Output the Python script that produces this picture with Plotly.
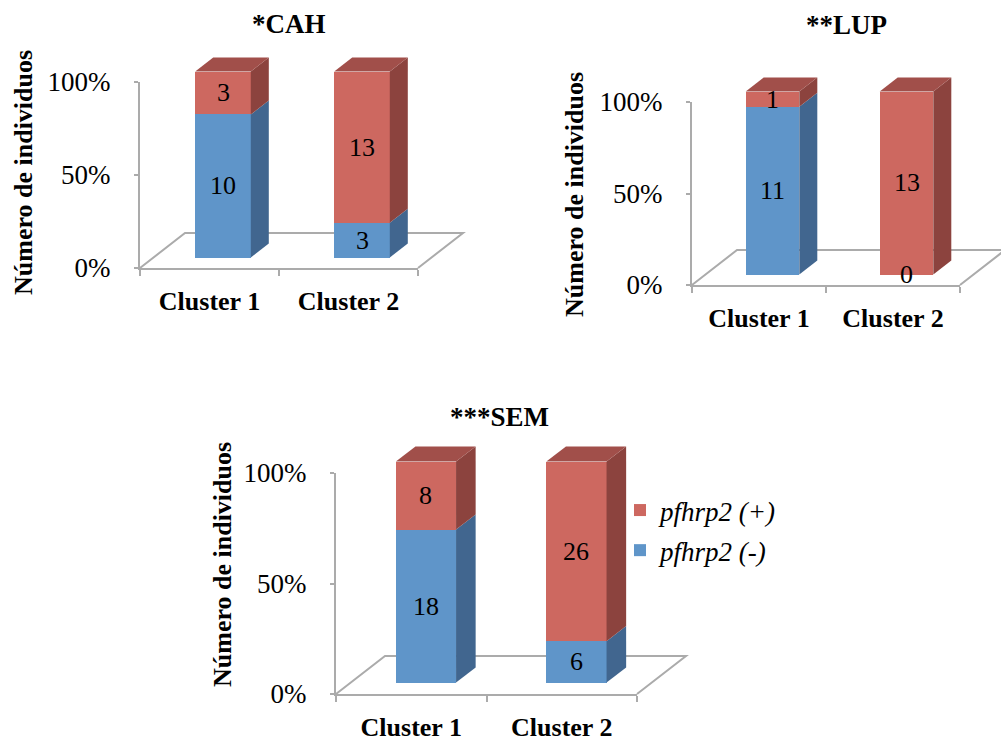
import plotly.graph_objects as go

# ---- data ----
panel_titles = ["*CAH", "**LUP", "***SEM"]
clusters = ["Cluster 1", "Cluster 2"]
neg_counts = [[10, 3], [11, 0], [18, 6]]   # pfhrp2 (-)
pos_counts = [[3, 13], [1, 13], [8, 26]]   # pfhrp2 (+)
pct_ticks = [0, 0.5, 1]
pct_labels = ["0%", "50%", "100%"]
series_names = ["pfhrp2 (-)", "pfhrp2 (+)"]
y_title = "Número de individuos"

# ---- styling / geometry ----
W, H = 1001, 744
FONT = "Liberation Serif"
GRID = "#ababab"
FRONT = ["#5f95c9", "#cd6860"]
SIDE = ["#41668f", "#8c433e"]
TOP = ["#4d78a8", "#a14f4a"]

# floor front edge (left/right px), pixel rows of 0% and 100%, depth vector (px)
frames = [
    dict(left=140, right=418, zero=268, full=82, depth=(45, 35), title=(289, 24), ytitle=(23, 173)),
    dict(left=692, right=960, zero=285, full=102, depth=(45, 35), title=(846, 25), ytitle=(574, 195)),
    dict(left=336, right=637, zero=694, full=473, depth=(49, 38), title=(499, 417), ytitle=(222, 565)),
]
BAR_DEPTH_START = 0.3   # bars stand 30% into the floor depth
BAR_DEPTH = 0.4         # and are 40% of it deep
BAR_WIDTH = 0.4


def ax_name(letter, idx):
    return letter if idx == 1 else f"{letter}{idx}"


def ax_key(letter, idx):
    return f"{letter}axis" if idx == 1 else f"{letter}axis{idx}"


fig = go.Figure()
layout = {}
shapes = []
annotations = []

for p, fr in enumerate(frames):
    fi, bi = 2 * p + 1, 2 * p + 2
    left, right, zero, full = fr["left"], fr["right"], fr["zero"], fr["full"]
    dx, dy = fr["depth"]
    sx = (right - left) / 2.0     # px per category
    sy = float(zero - full)       # px per 100%

    # visible front-plane axes: ticks, labels, axis lines
    layout[ax_key("x", fi)] = dict(
        domain=[left / W, right / W], range=[-0.5, 1.5], anchor=ax_name("y", fi),
        showline=True, linecolor=GRID, linewidth=2, showgrid=False, zeroline=False,
        tickmode="array", tickvals=[0, 1], ticktext=clusters, ticks="",
        tickfont=dict(family=FONT, size=26, color="black", weight="bold"),
        ticklabelstandoff=9, automargin=False,
        minor=dict(tickmode="array", tickvals=[-0.5, 0.5, 1.5], ticks="outside",
                   ticklen=6, tickwidth=2, tickcolor=GRID, showgrid=False),
        fixedrange=True,
    )
    layout[ax_key("y", fi)] = dict(
        domain=[1 - zero / H, 1 - full / H], range=[0, 1], anchor=ax_name("x", fi),
        showline=True, linecolor=GRID, linewidth=2, showgrid=False, zeroline=False,
        tickmode="array", tickvals=pct_ticks, ticktext=pct_labels,
        ticks="outside", ticklen=4, tickwidth=2, tickcolor=GRID,
        tickfont=dict(family=FONT, size=27, color="black"),
        ticklabelstandoff=18, automargin=False, fixedrange=True,
    )
    # an empty trace so the front-plane axes are laid out
    fig.add_trace(go.Scatter(
        x=[-0.5] * len(pct_ticks), y=pct_ticks, mode="none",
        xaxis=ax_name("x", fi), yaxis=ax_name("y", fi),
        showlegend=False, hoverinfo="skip",
    ))

    # hidden bar-plane axes, same scale, shifted back into the depth
    ox = left + 0.5 * sx + BAR_DEPTH_START * dx   # px of category 0
    oy = zero - BAR_DEPTH_START * dy              # px of 0%
    pxl, pxr = max(0, left - 60), min(W, right + 90)
    pyt, pyb = max(0, full - 60), min(H, zero + 40)
    layout[ax_key("x", bi)] = dict(
        domain=[pxl / W, pxr / W], range=[(pxl - ox) / sx, (pxr - ox) / sx],
        anchor=ax_name("y", bi), visible=False, fixedrange=True, automargin=False,
    )
    layout[ax_key("y", bi)] = dict(
        domain=[1 - pyb / H, 1 - pyt / H], range=[(oy - pyb) / sy, (oy - pyt) / sy],
        anchor=ax_name("x", bi), visible=False, fixedrange=True, automargin=False,
    )
    bx, by = ax_name("x", bi), ax_name("y", bi)

    counts = [neg_counts[p], pos_counts[p]]
    for s in range(2):
        fig.add_trace(go.Bar(
            x=[0, 1], y=counts[s], width=BAR_WIDTH, name=series_names[s],
            marker=dict(color=FRONT[s], line=dict(width=0)),
            xaxis=bx, yaxis=by, showlegend=(p == 2), legendgroup=f"g{s}",
            legendrank=2 - s, hoverinfo="skip",
        ))

    # floor outline (front edge is the x axis line)
    def fx(x, t):
        return x + (t - BAR_DEPTH_START) * dx / sx

    def fy(t):
        return (t - BAR_DEPTH_START) * dy / sy

    shapes.append(dict(
        type="path", xref=bx, yref=by, layer="below",
        path=(f"M{fx(-0.5, 0)},{fy(0)} L{fx(-0.5, 1)},{fy(1)} "
              f"L{fx(1.5, 1)},{fy(1)} L{fx(1.5, 0)},{fy(0)}"),
        line=dict(color=GRID, width=2),
    ))

    ddx, ddy = BAR_DEPTH * dx / sx, BAR_DEPTH * dy / sy
    for i in range(len(clusters)):
        total = counts[0][i] + counts[1][i]
        fr_neg = counts[0][i] / total
        segs = [(0.0, fr_neg, 0), (fr_neg, 1.0, 1)]
        xl, xr = i - BAR_WIDTH / 2, i + BAR_WIDTH / 2
        for y0, y1, s in segs:
            if y1 > y0:
                shapes.append(dict(
                    type="path", xref=bx, yref=by, layer="above",
                    path=(f"M{xr},{y0} L{xr + ddx},{y0 + ddy} "
                          f"L{xr + ddx},{y1 + ddy} L{xr},{y1} Z"),
                    fillcolor=SIDE[s], line=dict(width=0),
                ))
            annotations.append(dict(
                xref=bx, yref=by, x=i, y=(y0 + y1) / 2, text=str(counts[s][i]),
                showarrow=False, font=dict(family=FONT, size=26, color="black"),
            ))
        top_s = 1 if counts[1][i] > 0 else 0
        shapes.append(dict(
            type="path", xref=bx, yref=by, layer="above",
            path=(f"M{xl},1 L{xl + ddx},{1 + ddy} L{xr + ddx},{1 + ddy} L{xr},1 Z"),
            fillcolor=TOP[top_s], line=dict(width=0),
        ))

    tx, ty = fr["title"]
    annotations.append(dict(
        xref="paper", yref="paper", x=tx / W, y=1 - ty / H, text=panel_titles[p],
        showarrow=False, xanchor="center", yanchor="middle",
        font=dict(family=FONT, size=27, color="black", weight="bold"),
    ))
    yx, yy = fr["ytitle"]
    annotations.append(dict(
        xref="paper", yref="paper", x=yx / W, y=1 - yy / H, text=y_title,
        showarrow=False, xanchor="center", yanchor="middle", textangle=-90,
        font=dict(family=FONT, size=26, color="black", weight="bold"),
    ))

fig.update_layout(
    width=W, height=H, margin=dict(l=0, r=0, t=0, b=0, autoexpand=False),
    paper_bgcolor="white", plot_bgcolor="rgba(0,0,0,0)",
    barmode="stack", barnorm="fraction",
    shapes=shapes, annotations=annotations,
    legend=dict(
        x=620 / W, y=1 - 486 / H, xanchor="left", yanchor="top",
        traceorder="grouped", tracegroupgap=2,
        font=dict(family=FONT, size=27, color="black", style="italic"),
        bgcolor="rgba(0,0,0,0)",
    ),
    **layout,
)

fig.write_html("out.html")
